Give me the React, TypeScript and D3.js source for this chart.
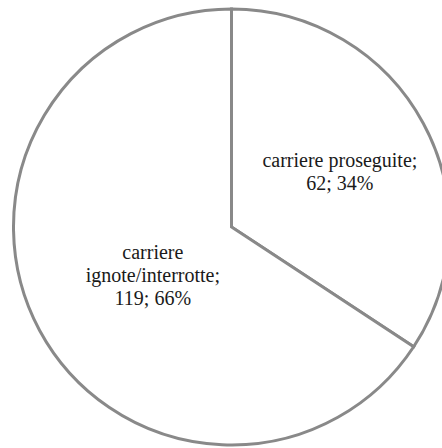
import * as d3 from 'd3'

// slice data
const categories = ['carriere proseguite', 'carriere ignote/interrotte']
const counts = [62, 119]
const percents = ['34%', '66%']
// label lines as they wrap in the reference
const labelLines = [
    ['carriere proseguite;', '62; 34%'],
    ['carriere', 'ignote/interrotte;', '119; 66%'],
]

const W = 442
const H = 448

const App = () => {
    const cx = 231.5
    const cy = 227
    const r = 218

    const pie = d3.pie<number>().sort(null).value(d => d)
    const arcs = pie(counts)
    const arc = d3.arc<d3.PieArcDatum<number>>().innerRadius(0).outerRadius(r)

    // label placement (radius share along mid angle, plus a small vertical nudge)
    const labelRatio = [0.565, 0.41]
    const labelNudge = [3, 6]
    const lineH = 23

    return (
        <svg width={W} height={H} style={{ position: 'absolute', left: 0, top: 0 }}>
            <rect width={W} height={H} fill='#fff' />
            <g transform={`translate(${cx},${cy})`}>
                {arcs.map((a, i) => (
                    <path key={categories[i]} d={arc(a) || ''} fill='#fff' stroke='#898989' strokeWidth={3} strokeLinejoin='miter' />
                ))}
                {arcs.map((a, i) => {
                    const rr = r * labelRatio[i]
                    const [lx, ly0] = d3.arc<d3.PieArcDatum<number>>().innerRadius(rr).outerRadius(rr).centroid(a)
                    const ly = ly0 + labelNudge[i]
                    const lines = labelLines[i]
                    const y0 = ly - ((lines.length - 1) * lineH) / 2
                    return (
                        <text key={percents[i]} x={lx} textAnchor='middle'
                            fontFamily='Liberation Serif, Times New Roman, serif' fontSize={20} fill='#1a1a1a'>
                            {lines.map((t, j) => (
                                <tspan key={j} x={lx} y={y0 + j * lineH} dy='0.35em'>{t}</tspan>
                            ))}
                        </text>
                    )
                })}
            </g>
        </svg>
    )
}

export default App
